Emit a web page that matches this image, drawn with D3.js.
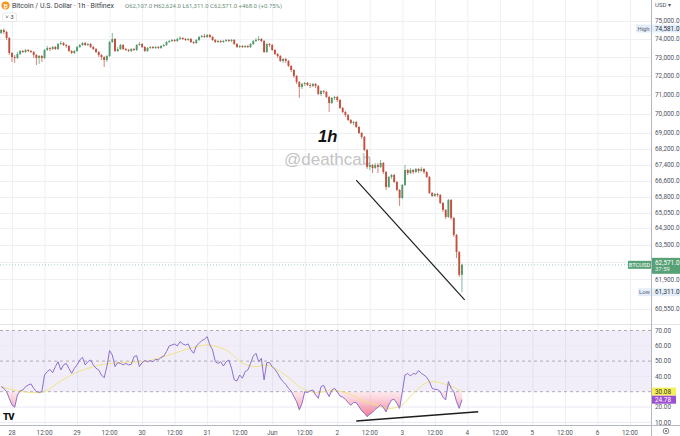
<!DOCTYPE html>
<html><head><meta charset="utf-8">
<script src="https://cdn.jsdelivr.net/npm/d3@7"></script>
<style>html,body{margin:0;padding:0;background:#fff;overflow:hidden}svg{display:block;font-family:Roboto,"Liberation Sans",sans-serif}</style>
</head><body>
<svg id="c" width="680" height="436"></svg>
<script>
// ---------------- DATA ----------------
const firstCandle = "2024-05-27T20:00";   // hourly candles from here
const firstOpen = 74334;
const closes = [74500,74390,74059,73238,73020,72966,73183,73347,73292,73401,73347,73292,73129,72966,73075,72966,
73401,73510,73456,73565,73456,73729,73784,73674,73620,73347,73238,73347,73565,73674,73784,73674,73729,73565,73456,73292,
73129,73020,72858,73075,73839,74004,73347,73456,73674,73456,73401,73347,73456,73401,73674,73729,73565,73347,73510,73565,
73510,73565,73510,73620,73674,73839,73894,73949,73894,74004,74059,74004,73949,74004,73839,73784,73949,74114,74169,74114,
74224,74114,73949,73839,73894,73839,73894,73949,73894,73949,73729,73565,73620,73565,73620,73565,73729,73894,73949,74004,
73894,73292,73729,73674,73401,73183,73075,72804,72912,72804,72534,72318,71997,71676,71410,71570,71623,71517,71464,71570,
71464,71040,71198,71146,70882,70566,70829,70882,70724,70305,70096,69940,69681,69525,69577,69319,69011,68806,68145,67290,
67390,67240,67390,67290,67490,67040,66297,66792,66891,66544,66150,65758,66396,67140,66990,67140,67040,67190,67090,67190,
67040,66792,66002,65855,65953,65904,65514,65174,64837,65660,64789,63975,63171,62107,62571];
const highs = [74556,74581,74445,74114,73292,73129,73292,73401,73401,73456,73456,73401,73347,73183,73129,73129,
73456,73620,73565,73620,73620,73784,73894,73839,73729,73674,73401,73401,73620,73729,73839,73839,73784,73784,73620,73510,
73347,73183,73075,73129,73894,74334,74059,73565,73729,73729,73510,73456,73510,73510,73729,73839,73784,73620,73565,73620,
73620,73620,73620,73674,73729,73894,73949,74004,74004,74059,74169,74114,74059,74059,74059,73894,74004,74169,74224,74279,
74279,74279,74169,74004,73949,73949,73949,74004,74004,74004,74004,73784,73674,73674,73674,73674,73784,73949,74059,74169,
74059,73949,73784,73784,73729,73456,73238,73129,72966,72966,72858,72588,72372,72050,71730,71623,71676,71676,71623,71623,
71623,71517,71251,71251,71198,70935,70882,70935,70935,70777,70357,70148,69992,69733,69629,69629,69370,69062,68857,68200,
67490,67440,67490,67490,67641,67540,67090,66841,66940,66940,66594,66199,66445,67390,67190,67240,67190,67240,67240,67290,
67240,67090,66841,66051,66002,66002,65953,65562,65222,65709,65709,64837,64022,63218,62624];
const lows = [74279,74279,73949,73129,72750,72696,72912,73129,73238,73238,73292,73238,72966,72588,72642,72750,
72912,73347,73347,73401,73401,73401,73674,73620,73510,73292,73183,73183,73292,73510,73620,73620,73620,73510,73401,73238,
73020,72858,72480,72750,73020,73784,73292,73292,73401,73401,73347,73292,73292,73347,73347,73620,73510,73292,73292,73456,
73456,73456,73456,73456,73565,73620,73784,73839,73839,73839,73949,73949,73894,73894,73784,73729,73729,73894,74059,74059,
74059,74059,73894,73784,73784,73784,73784,73839,73839,73839,73674,73510,73510,73510,73510,73510,73510,73674,73839,73894,
73839,73238,73238,73565,73347,73129,72966,72750,72696,72696,72480,72211,71890,71570,70829,71304,71464,71464,71357,71410,
71357,70987,70935,71040,70829,70096,70514,70724,70619,70253,70044,69836,69629,69473,69422,69268,68960,68704,68094,67190,
67140,66990,67190,66990,67240,66940,66150,66248,66693,66495,66100,65368,65709,66347,66891,66940,66940,66990,66990,67040,
66940,66742,65953,65807,65807,65807,65465,65077,64741,64789,64693,63880,62890,62010,61311];
const rsi = [33.3,32.2,30,25.7,21.3,19.8,27.8,30.6,31.1,33.3,34.4,35.1,32.2,30,29.6,30,40.9,43.1,44.6,42.4,46.4,49.6,44.2,47.5,
48.5,45.3,42,45.3,47.5,50.7,52.5,47.5,49.6,50.7,47.5,45.3,44.2,40.9,39.1,46.4,56.9,54,46.4,49,48.5,47.5,48.5,47.5,47.9,52.9,
53.6,46.4,49,50.3,49.6,50.3,49.6,51.2,50.7,52.5,53.3,56.2,59.9,60.5,61.2,59.9,62.7,61.2,60.5,61.2,57.3,55.1,59.9,61.6,63.4,
64.3,66,60.5,57.3,49.6,48.5,49.6,46.8,49.6,50.7,45.3,37.7,37,40.9,38.8,43.1,44.2,48.5,53.3,55.1,49.6,51.8,37.7,49,49,46.4,
44.6,42,38.8,36.6,34.8,32.2,30.4,26.8,23.5,18.1,22.4,30,29.4,30.6,31.1,27.8,25.7,33.3,34.2,30,26.8,31.1,32.2,30,27.2,26.4,
25,22.9,21.1,22.9,22.9,20.2,17.6,15.9,13.7,15.4,16.5,18.5,19.8,21.3,19.8,16.8,21.3,24.6,25,22.4,19.1,30,40.9,42,40.2,42,
41.4,43.8,42,40.9,39.4,36.6,32.2,31.5,31.5,30,26.4,24.6,36.6,32.2,30,23.5,19.1,24.78];
const rsiMA = [33.3,32.8,32.3,31.8,31.3,30.9,30.5,30.2,30.0,29.8,29.6,29.5,29.4,29.4,29.4,29.5,30.2,31.0,32.0,33.2,34.5,35.8,37.0,38.0,
39.0,40.0,41.0,41.9,42.7,43.4,44.0,44.6,45.2,45.8,46.3,46.8,47.2,47.6,47.9,48.2,48.4,48.5,48.7,48.9,49.0,49.1,49.2,49.3,49.3,49.4,
49.5,49.5,49.6,49.7,50.0,50.4,50.9,51.4,51.9,52.4,52.9,53.4,54.0,54.6,55.2,55.8,56.4,57.0,57.5,58.0,58.5,59.0,59.4,59.8,60.1,60.4,
60.5,60.4,60.1,59.7,59.2,58.6,58.0,57.3,56.2,54.8,53.2,51.6,50.0,48.8,47.9,47.2,46.8,46.5,46.4,46.6,47.0,47.3,47.3,47.0,46.3,45.3,
44.2,43.1,42.0,40.7,39.3,37.8,36.3,34.8,33.4,32.2,31.2,30.5,30.2,29.7,29.4,29.4,29.6,30.0,30.5,30.9,31.1,31.0,30.7,30.3,29.9,29.4,
28.9,28.3,27.5,26.6,25.6,24.6,23.8,23.2,22.6,22.0,21.4,20.8,20.2,19.6,19.2,19.0,19.1,19.4,19.8,20.2,21.5,23.0,25.0,27.0,29.0,30.6,
32.2,33.7,35.0,36.0,36.6,36.8,36.6,36.3,35.9,35.4,34.8,34.2,33.6,32.8,31.9,31.0,30.08];
const priceTicks = [75000,74000,73000,72000,71000,70000,69000,68200,67400,66600,65800,65050,64300,63500,62700,61900,60550];
const rsiTicks = [70,60,50,40,30,20,10];
const timeTickStart = "2024-05-28T00:00";   // one label every 12 hours
const timeLabels = ["28","12:00","29","12:00","30","12:00","31","12:00","Jun","12:00","2","12:00","3","12:00","4","12:00","5","12:00","6","12:00"];
const trendPrice = [["2024-06-02T07:00",66640],["2024-06-03T23:00",60960]];
const trendRsi = [["2024-06-02T07:00",10.9],["2024-06-04T04:00",16.9]];
const title = "Bitcoin / U.S. Dollar · 1h · Bitfinex";
const legendOHLC = [["O","62,107.0"],["H","62,624.0"],["L","61,311.0"],["C","62,571.0"],["","+468.0 (+0.75%)"]];
const countdown = "37:59";

// ---------------- CHART ----------------
const W = 680, H = 436, AX = 651;
const UP = "#4f9b6c", DN = "#c4503d", GRID = "#eef0f4", TXT = "#50535e";
const parse = d3.timeParse("%Y-%m-%dT%H:%M");
const t0 = parse(firstCandle);
const candles = closes.map((c, i) => ({
  t: d3.timeHour.offset(t0, i),
  o: i === 0 ? firstOpen : closes[i - 1], h: highs[i], l: lows[i], c,
  r: rsi[i], m: rsiMA[i]
}));
const tick0 = parse(timeTickStart);
const tickTimes = timeLabels.map((_, i) => d3.timeHour.offset(tick0, 12 * i));

const x = d3.scaleTime().domain([tick0, d3.timeHour.offset(tick0, 228)]).range([12, 630]);
const yP = d3.scaleLog().domain([60550, 75000]).range([309, 21]);
const yR = d3.scaleLinear().domain([10, 70]).range([422.3, 330.5]);

const svg = d3.select("#c");
svg.append("rect").attr("width", W).attr("height", H).attr("fill", "#fff");
const defs = svg.append("defs");
defs.append("clipPath").attr("id", "cp").append("rect").attr("x", 0).attr("y", 0).attr("width", AX).attr("height", 323);
defs.append("clipPath").attr("id", "cr").append("rect").attr("x", 0).attr("y", 325).attr("width", AX).attr("height", 100);
defs.append("clipPath").attr("id", "cLow").append("rect").attr("x", 0).attr("y", yR(30)).attr("width", AX).attr("height", 425 - yR(30));
const grad = defs.append("linearGradient").attr("id", "gr").attr("gradientUnits", "userSpaceOnUse")
  .attr("x1", 0).attr("x2", 0).attr("y1", yR(30)).attr("y2", yR(12));
grad.append("stop").attr("offset", 0).attr("stop-color", "#f7a8b8").attr("stop-opacity", 0.25);
grad.append("stop").attr("offset", 1).attr("stop-color", "#ef4d6a").attr("stop-opacity", 0.85);

// grid
const g = svg.append("g");
g.selectAll(".vg").data(tickTimes).join("line")
  .attr("x1", d => x(d) + 0.5).attr("x2", d => x(d) + 0.5).attr("y1", 0).attr("y2", 425)
  .attr("stroke", GRID).attr("stroke-width", 1);
g.selectAll(".hg").data(priceTicks).join("line")
  .attr("x1", 0).attr("x2", AX).attr("y1", d => Math.round(yP(d)) + 0.5).attr("y2", d => Math.round(yP(d)) + 0.5)
  .attr("stroke", GRID);
g.append("line").attr("x1", 0).attr("x2", W).attr("y1", 324.5).attr("y2", 324.5).attr("stroke", "#e3e5ea");

// watermark (beneath the candles)
svg.append("text").attr("x", 284).attr("y", 165).text("@deathcab")
  .attr("font-family", "'Liberation Sans',Arial,sans-serif").attr("font-size", 17).attr("fill", "#c4c4c4");

// RSI band & levels
const rp = svg.append("g");
rp.append("rect").attr("x", 0).attr("width", AX).attr("y", yR(70)).attr("height", yR(30) - yR(70)).attr("fill", "rgba(126,87,194,0.1)");
rp.selectAll(".rg").data([60, 40, 20, 10]).join("line")
  .attr("x1", 0).attr("x2", AX).attr("y1", d => yR(d)).attr("y2", d => yR(d)).attr("stroke", "#ebe8f3");
rp.selectAll(".rl").data([70, 50, 30]).join("line")
  .attr("x1", 0).attr("x2", AX).attr("y1", d => yR(d)).attr("y2", d => yR(d))
  .attr("stroke", "#9b9ba3").attr("stroke-width", 0.8).attr("stroke-dasharray", "3,3");

// RSI oversold fill, MA and RSI lines
const rg = svg.append("g").attr("clip-path", "url(#cr)");
rg.append("g").attr("clip-path", "url(#cLow)").append("path").datum(candles)
  .attr("d", d3.area().x(d => x(d.t)).y0(yR(30)).y1(d => yR(d.r)))
  .attr("fill", "url(#gr)");
rg.append("path").datum(candles).attr("d", d3.line().x(d => x(d.t)).y(d => yR(d.m)).curve(d3.curveMonotoneX))
  .attr("fill", "none").attr("stroke", "#f0e482").attr("stroke-width", 1);
rg.append("path").datum(candles).attr("d", d3.line().x(d => x(d.t)).y(d => yR(d.r)))
  .attr("fill", "none").attr("stroke", "#8d6fd1").attr("stroke-width", 1);

// candles
const cg = svg.append("g").attr("clip-path", "url(#cp)");
const bw = 1.9;
cg.selectAll(".wk").data(candles).join("line")
  .attr("x1", d => x(d.t)).attr("x2", d => x(d.t)).attr("y1", d => yP(d.h)).attr("y2", d => yP(d.l))
  .attr("stroke", d => d.c >= d.o ? UP : DN).attr("stroke-width", 0.7);
cg.selectAll(".bd").data(candles).join("rect")
  .attr("x", d => x(d.t) - bw / 2).attr("width", bw)
  .attr("y", d => yP(Math.max(d.o, d.c)))
  .attr("height", d => Math.max(0.7, Math.abs(yP(d.o) - yP(d.c))))
  .attr("fill", d => d.c >= d.o ? UP : DN);

// last price line
const last = candles[candles.length - 1];
cg.append("line").attr("x1", 0).attr("x2", 628).attr("y1", yP(last.c)).attr("y2", yP(last.c))
  .attr("stroke", UP).attr("stroke-width", 0.6).attr("stroke-dasharray", "1,2").attr("opacity", 0.8);

// annotations
const ag = svg.append("g");
ag.append("line").attr("x1", x(parse(trendPrice[0][0]))).attr("y1", yP(trendPrice[0][1]))
  .attr("x2", x(parse(trendPrice[1][0]))).attr("y2", yP(trendPrice[1][1]))
  .attr("stroke", "#1e1e1e").attr("stroke-width", 1.2);
ag.append("line").attr("x1", x(parse(trendRsi[0][0]))).attr("y1", yR(trendRsi[0][1]))
  .attr("x2", x(parse(trendRsi[1][0]))).attr("y2", yR(trendRsi[1][1]))
  .attr("stroke", "#1e1e1e").attr("stroke-width", 1.5);
ag.append("text").attr("x", 318).attr("y", 141.5).text("1h")
  .attr("font-family", "'Liberation Sans',Arial,sans-serif").attr("font-weight", "bold").attr("font-style", "italic")
  .attr("font-size", 16.5).attr("fill", "#111");

// axes lines
svg.append("line").attr("x1", AX + 0.5).attr("x2", AX + 0.5).attr("y1", 0).attr("y2", 436).attr("stroke", "#b4b7bf");
svg.append("line").attr("x1", 0).attr("x2", W).attr("y1", 425.5).attr("y2", 425.5).attr("stroke", "#b4b7bf");

// price axis labels
const fmtP = d3.format(",.1f");
svg.append("g").selectAll("text").data(priceTicks).join("text")
  .attr("x", 655).attr("y", d => yP(d)).attr("dy", "0.35em").text(d => fmtP(d))
  .attr("font-size", 6.4).attr("fill", TXT);
svg.append("g").selectAll("text").data(rsiTicks).join("text")
  .attr("x", 655).attr("y", d => yR(d)).attr("dy", "0.35em").text(d => d.toFixed(2))
  .attr("font-size", 6.4).attr("fill", TXT);
svg.append("g").selectAll("text").data(tickTimes).join("text")
  .attr("x", d => x(d)).attr("y", 433).attr("dy", "0.35em").attr("text-anchor", "middle")
  .text((d, i) => timeLabels[i]).attr("font-size", 6.4).attr("fill", TXT);

// High / Low / Last labels
function tag(yv, left, leftW, val, bg, fg, tall) {
  const gg = svg.append("g");
  const hgt = tall ? 16 : 8;
  const top = tall ? yv - 7 : yv - 4;
  gg.append("rect").attr("x", AX + 1).attr("y", top).attr("width", W - AX - 1).attr("height", hgt).attr("fill", bg);
  gg.append("text").attr("x", 655).attr("y", tall ? yv - 2.5 : yv).attr("dy", "0.35em").text(val)
    .attr("font-size", 6.4).attr("fill", fg);
  if (left) {
    gg.append("rect").attr("x", AX - leftW).attr("y", yv - 4).attr("width", leftW).attr("height", 8).attr("fill", bg);
    gg.append("text").attr("x", AX - leftW / 2).attr("y", yv).attr("dy", "0.35em").attr("text-anchor", "middle")
      .text(left).attr("font-size", 5.8).attr("fill", fg === "#fff" ? "#fff" : "#5a6070");
  }
  return gg;
}
const hiV = d3.max(highs), loV = d3.min(lows);
tag(yP(hiV), "High", 15, fmtP(hiV), "#e4eefb", "#2a2e39", false);
tag(yP(loV), "Low", 13, fmtP(loV), "#e4eefb", "#2a2e39", false);
const lt = tag(yP(last.c), "BTCUSD", 23, fmtP(last.c), "#57a176", "#fff", true);
lt.append("text").attr("x", 655).attr("y", yP(last.c) + 4.5).attr("dy", "0.35em").text(countdown)
  .attr("font-size", 6).attr("fill", "#eaf5ee");
[[last.m, "#f5f05a", "#333"], [last.r, "#9c4fd0", "#fff"]].forEach(([v, bg, fg]) => {
  svg.append("rect").attr("x", AX + 1).attr("y", yR(v) - 4).attr("width", 24).attr("height", 8).attr("fill", bg);
  svg.append("text").attr("x", 655).attr("y", yR(v)).attr("dy", "0.35em").text(v.toFixed(2)).attr("font-size", 6.4).attr("fill", fg);
});

// header
svg.append("text").attr("x", 655).attr("y", 5).attr("dy", "0.35em").text("USD  ▾").attr("font-size", 6).attr("fill", TXT);
svg.append("circle").attr("cx", 5.5).attr("cy", 5.5).attr("r", 4).attr("fill", "#f7931a");
svg.append("text").attr("x", 5.5).attr("y", 5.7).attr("dy", "0.35em").attr("text-anchor", "middle").text("₿")
  .attr("font-size", 5.5).attr("fill", "#fff").attr("font-weight", "bold");
svg.append("text").attr("x", 12).attr("y", 5.5).attr("dy", "0.35em").text(title).attr("font-size", 7).attr("fill", "#3a3d46");
const lg = svg.append("text").attr("x", 125).attr("y", 5.5).attr("dy", "0.35em").attr("font-size", 6);
legendOHLC.forEach(([k, v]) => {
  lg.append("tspan").text(k).attr("fill", "#70737c");
  lg.append("tspan").text(v + " ").attr("fill", "#6b8f78");
});
svg.append("rect").attr("x", 2.5).attr("y", 13).attr("width", 14).attr("height", 8.5).attr("rx", 1.5)
  .attr("fill", "#fff").attr("stroke", "#d8dbe2").attr("stroke-width", 0.6);
svg.append("text").attr("x", 9.5).attr("y", 17.3).attr("dy", "0.35em").attr("text-anchor", "middle").text("˅ 3")
  .attr("font-size", 6).attr("fill", "#444");

// logo & settings icon
svg.append("text").attr("x", 3).attr("y", 419.5).text("TV").attr("font-size", 9.5).attr("font-weight", 900)
  .attr("letter-spacing", -0.8).attr("fill", "#111");
svg.append("circle").attr("cx", 666).attr("cy", 431).attr("r", 2.8).attr("fill", "none").attr("stroke", "#666").attr("stroke-width", 0.8);
svg.append("circle").attr("cx", 666).attr("cy", 431).attr("r", 1).attr("fill", "#666");
</script>
</body></html>
